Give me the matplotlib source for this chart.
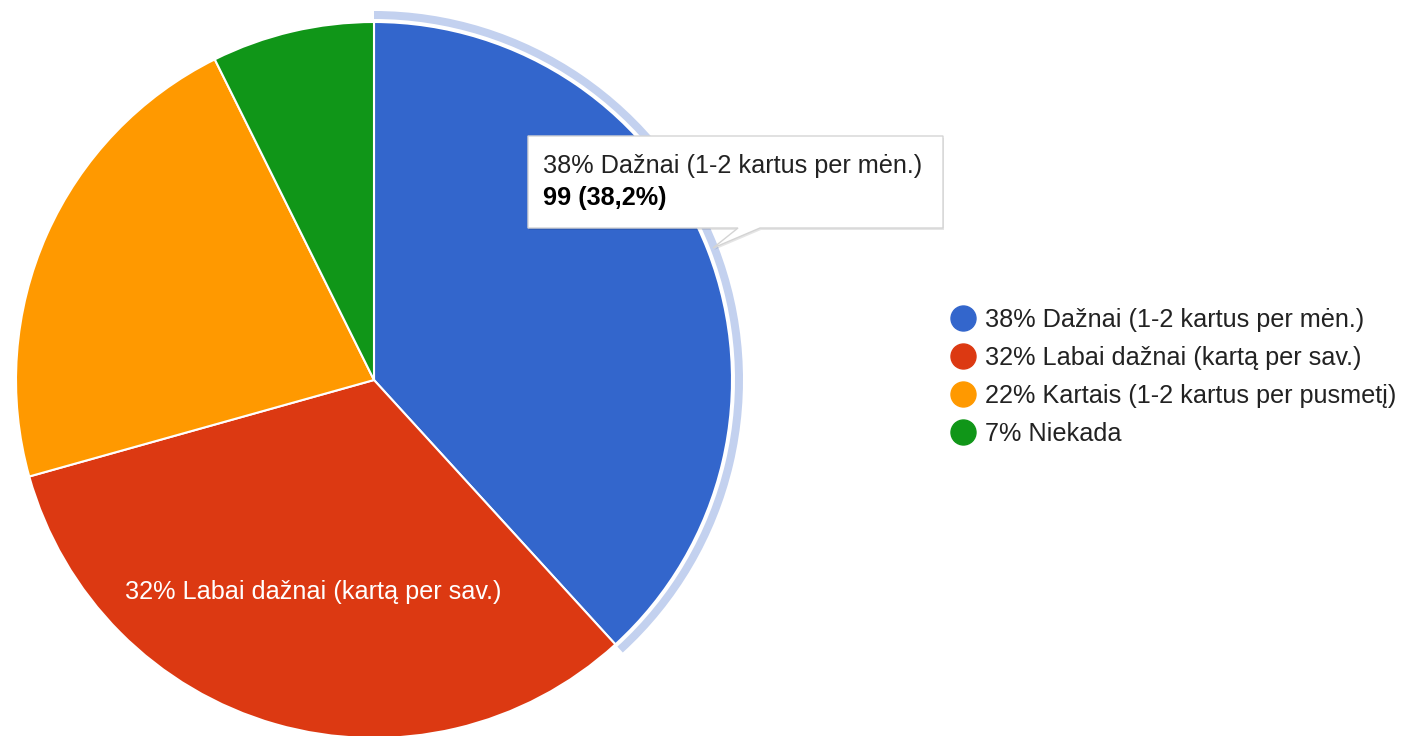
import matplotlib
matplotlib.use("Agg")
import matplotlib.pyplot as plt
from matplotlib.patches import Wedge, Polygon
from matplotlib.lines import Line2D
import numpy as np

plt.rcParams['font.family'] = ['Liberation Sans', 'DejaVu Sans']

# data
CATEGORIES = ["Dažnai (1-2 kartus per mėn.)", "Labai dažnai (kartą per sav.)",
              "Kartais (1-2 kartus per pusmetį)", "Niekada"]
COUNTS = [99, 84, 57, 19]
COLORS = ["#3366cc", "#dc3912", "#ff9900", "#109618"]
HOVER_RING = "#c3d1ef"
TEXT = "#222222"

total = sum(COUNTS)
pct = [100 * c / total for c in COUNTS]
labels = [f"{round(p)}% {c}" for p, c in zip(pct, CATEGORIES)]

W, H = 1407, 736
FS = 18.2
fig = plt.figure(figsize=(W / 100, H / 100), dpi=100)
ax = fig.add_axes([0, 0, 1, 1])

CX, CY, R = 374, 380, 358
# y axis is inverted (pixel-like); counterclock in data = clockwise on screen
wedges, _ = ax.pie(COUNTS, colors=COLORS, startangle=-90, counterclock=True,
                   center=(CX, CY), radius=R,
                   wedgeprops=dict(edgecolor="white", linewidth=1.5))
ax.set_xlim(0, W)
ax.set_ylim(H, 0)
ax.set_aspect("equal")
ax.axis("off")

# hover ring round the first slice
w0 = wedges[0]
ax.add_patch(Wedge((CX, CY), R + 11, w0.theta1, w0.theta2, width=8,
                   facecolor=HOVER_RING, edgecolor="none", zorder=1))

# label inside the second slice
w1 = wedges[1]
mid = np.deg2rad((w1.theta1 + w1.theta2) / 2)
ax.text(CX + 0.615 * R * np.cos(mid), CY + 0.615 * R * np.sin(mid), labels[1],
        color="white", fontsize=FS, ha="center", va="center")

# tooltip
bx0, by0, bx1, by1 = 528, 136, 943, 228
tip = [(760, by1), (713, 248), (738, by1)]
pts = [(bx0, by0), (bx1, by0), (bx1, by1)] + tip + [(bx0, by1)]
shadow = Polygon([(x + 1, y + 2) for x, y in pts], closed=True,
                 facecolor="#000000", alpha=0.10, edgecolor="none", zorder=5)
ax.add_patch(shadow)
ax.add_patch(Polygon(pts, closed=True, facecolor="white", edgecolor="#d4d4d4",
                     linewidth=1, zorder=6))
ax.text(543, 166, labels[0], fontsize=FS, color=TEXT, ha="left", va="center", zorder=7)
ax.text(543, 198, f"{COUNTS[0]} ({pct[0]:.1f}%)".replace(".", ","), fontsize=FS,
        fontweight="bold", color="black", ha="left", va="center", zorder=7)

# legend
handles = [Line2D([], [], marker="o", linestyle="none", markersize=18,
                  markerfacecolor=c, markeredgecolor=c) for c in COLORS]
leg = ax.legend(handles, labels, loc="upper left", bbox_to_anchor=(950 / W, 1 - 308 / H),
                bbox_transform=fig.transFigure, frameon=False, fontsize=FS,
                handlelength=1.0, handletextpad=0.38, labelspacing=0.55,
                borderpad=0, borderaxespad=0)
for t in leg.get_texts():
    t.set_color(TEXT)

fig.savefig("out.png", dpi=100)
